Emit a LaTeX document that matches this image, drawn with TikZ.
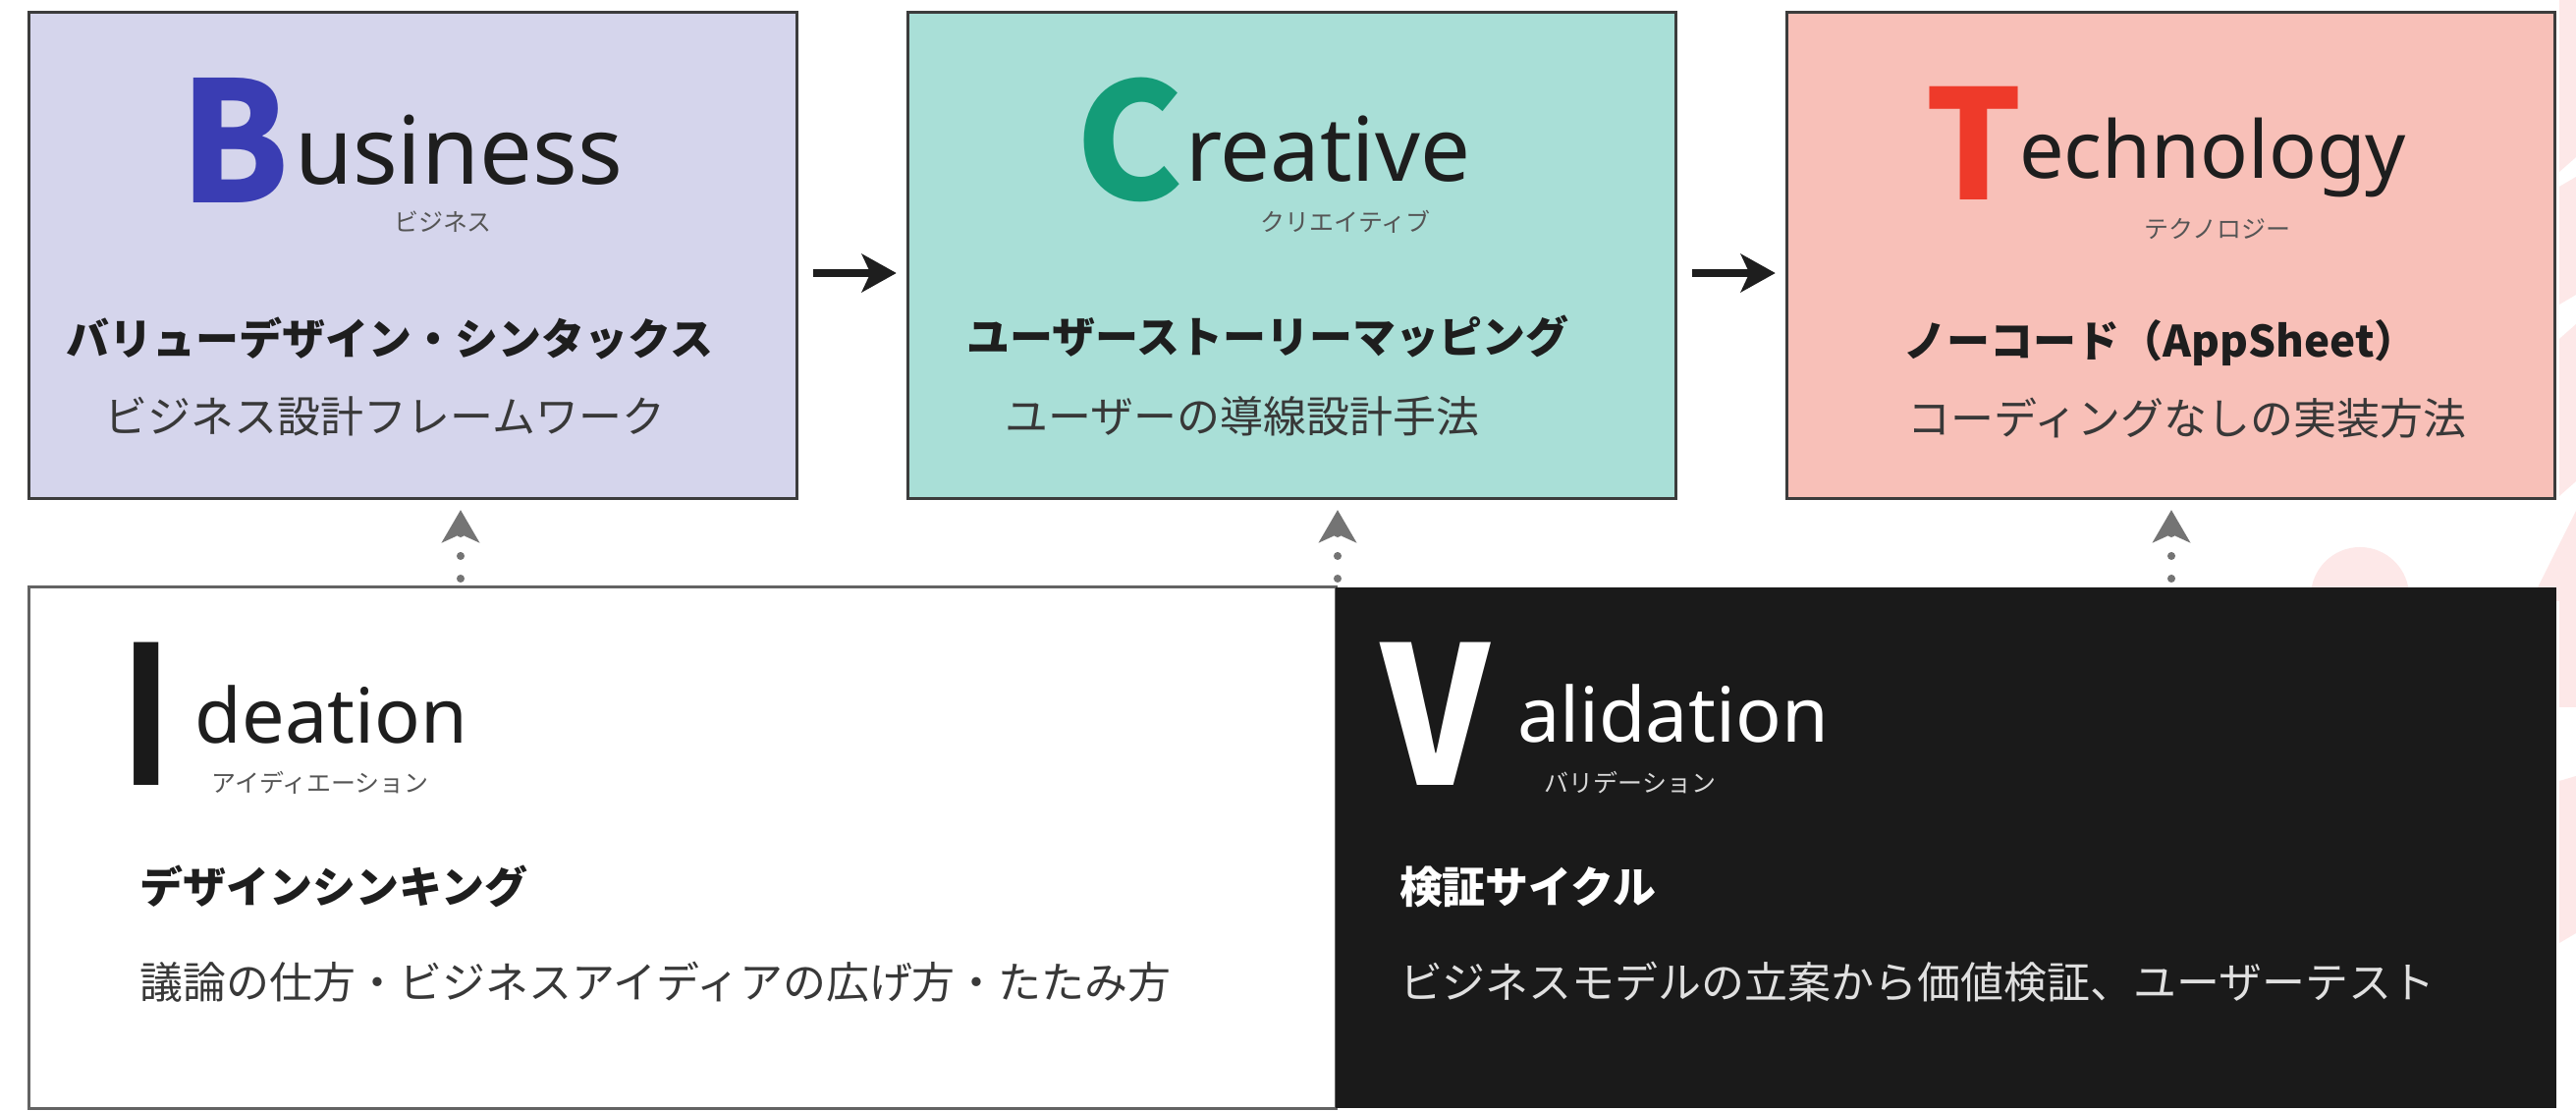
\documentclass[tikz,border=0pt]{standalone}
\usepackage{fontspec}
\setmainfont{Noto Sans}
\newfontfamily\jp{Noto Sans CJK JP}
\usetikzlibrary{arrows.meta}
\definecolor{busfill}{HTML}{D5D5EC}
\definecolor{crefill}{HTML}{A9DFD7}
\definecolor{tecfill}{HTML}{F8C0B8}
\definecolor{bblue}{HTML}{3A3DB3}
\definecolor{cgreen}{HTML}{149C78}
\definecolor{tred}{HTML}{EE3A2A}
\definecolor{boxline}{HTML}{3C3C3C}
\definecolor{darkbox}{HTML}{1A1A1A}
\definecolor{headtxt}{HTML}{1E1E1E}
\definecolor{subtxt}{HTML}{383838}
\definecolor{rubytxt}{HTML}{555555}
\definecolor{arrgray}{HTML}{747474}
\definecolor{deco}{HTML}{FDE8E8}
\tikzset{
  topbox/.style={draw=boxline, line width=0.85pt, minimum width=7.81cm, minimum height=4.94cm, inner sep=0},
  head/.style={font=\jp\bfseries\fontsize{12.5}{15}\selectfont, text=headtxt},
  sub/.style={font=\jp\fontsize{12.5}{15}\selectfont, text=subtxt},
  ruby/.style={font=\jp\fontsize{7.1}{8}\selectfont, text=rubytxt},
  initial/.style={anchor=base west, font=\jp\bfseries\fontsize{#1}{#1}\selectfont},
  rest/.style={anchor=base west, font=\fontsize{#1}{#1}\selectfont, text=headtxt},
  flow/.style={draw=headtxt, line width=2.3pt, -{Stealth[length=10pt, width=11pt, inset=2.5pt]}},
  uparrow/.style={draw=arrgray, line width=2.3pt, line cap=round, dash pattern=on 0pt off 0.23cm, dash phase=0.14cm,
     -{Stealth[length=9.4pt, width=10.8pt, inset=2.4pt]}, shorten >=0.12cm},
}
\begin{document}
\begin{tikzpicture}[x=0.01cm, y=-0.01cm, every node/.style={inner sep=0, outer sep=0}]
\useasboundingbox (0,0) rectangle (2623,1131);
\fill[white] (0,0) rectangle (2623,1131);
% faint background decorations
\fill[deco] (2403,607) circle (50);
\fill[deco] (2606,0) -- (2623,0) -- (2623,160) -- (2606,175) -- cycle;
\fill[deco] (2606,190) -- (2623,180) -- (2623,300) -- (2606,310) -- cycle;
\fill[deco] (2606,345) -- (2623,330) -- (2623,490) -- (2606,505) -- cycle;
\fill[deco] (2577,612) -- (2623,520) -- (2623,720) -- (2606,720) -- (2606,612) -- cycle;
\fill[deco] (2606,795) -- (2623,790) -- (2623,950) -- (2606,960) -- cycle;
% top boxes
\node[topbox, fill=busfill] (bus) at (420.5,260) {};
\node[topbox, fill=crefill] (cre) at (1315.5,260) {};
\node[topbox, fill=tecfill] (tec) at (2210.5,260) {};
% bottom boxes
\node[draw=boxline!80, line width=0.85pt, fill=white, minimum width=13.30cm, minimum height=5.30cm] (ide) at (695,863) {};
\node[fill=darkbox, minimum width=12.43cm, minimum height=5.30cm] (val) at (1981.5,863) {};
% Business
\node[initial=48.5, text=bblue] (bB) at (183,207) {\scalebox{0.94}[1]{B}};
\node[rest=27.2] (bT) at (300,188) {usiness};
\node[ruby] (bR) at (451,226) {ビジネス};
\node[head] (bH) at (397,344) {バリューデザイン・シンタックス};
\node[sub] (bS) at (392,424) {ビジネス設計フレームワーク};
% Creative
\node[initial=46.7, text=cgreen] (cC) at (1095,204) {C};
\node[rest=25.7] (cT) at (1207,185) {reative};
\node[ruby] (cR) at (1370,226) {クリエイティブ};
\node[head] (cH) at (1291,342) {ユーザーストーリーマッピング};
\node[sub] (cS) at (1265,424) {ユーザーの導線設計手法};
% Technology
\node[initial=44, text=tred] (tT) at (1960,204) {T};
\node[rest=23] (tW) at (2056,182) {echnology};
\node[ruby] (tR) at (2258,233) {テクノロジー};
\node[head] (tH) at (2200,349) {ノーコード（AppSheet）};
\node[sub] (tS) at (2227,426) {コーディングなしの実装方法};
% Ideation
\node[initial=55.5, text=darkbox] (iI) at (124,800) {\scalebox{0.72}[1]{I}};
\node[rest=22] (iW) at (199,757) {deation};
\node[ruby] (iR) at (326,797) {アイディエーション};
\node[head, anchor=west] (iH) at (143,902) {デザインシンキング};
\node[sub, anchor=west] (iS) at (143,1000) {議論の仕方・ビジネスアイディアの広げ方・たたみ方};
% Validation
\node[initial=55.5, text=white] (vV) at (1406,800) {\scalebox{0.88}[1]{V}};
\node[rest=22, text=white] (vW) at (1545,756) {alidation};
\node[ruby, text=white!85!black] (vR) at (1660,797) {バリデーション};
\node[head, anchor=west, text=white] (vH) at (1425,903) {検証サイクル};
\node[sub, anchor=west, text=white!88!black] (vS) at (1425,1000) {ビジネスモデルの立案から価値検証、ユーザーテスト};
% flow arrows
\draw[flow, shorten <=0.17cm, shorten >=0.12cm] ([yshift=-0.18cm]bus.east) -- ([yshift=-0.18cm]cre.west);
\draw[flow, shorten <=0.17cm, shorten >=0.12cm] ([yshift=-0.18cm]cre.east) -- ([yshift=-0.18cm]tec.west);
% dotted up arrows
\coordinate (u1) at (469,598);
\coordinate (u2) at (1362,598);
\coordinate (u3) at (2211,598);
\draw[uparrow] (u1) -- (u1 |- bus.south);
\draw[uparrow] (u2) -- (u2 |- cre.south);
\draw[uparrow] (u3) -- (u3 |- tec.south);
\end{tikzpicture}
\end{document}
